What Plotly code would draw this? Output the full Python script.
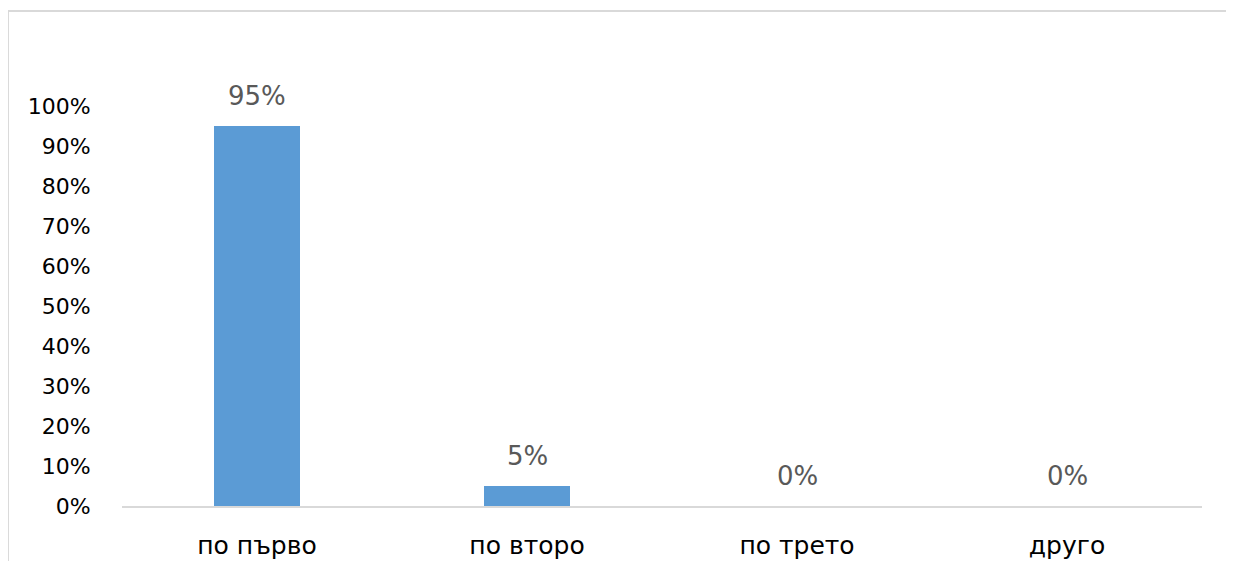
import plotly.graph_objects as go

categories = ["по първо", "по второ", "по трето", "друго"]
values = [0.95, 0.05, 0.0, 0.0]
value_labels = ["95%", "5%", "0%", "0%"]
tick_vals = [0, 0.1, 0.2, 0.3, 0.4, 0.5, 0.6, 0.7, 0.8, 0.9, 1.0]
tick_text = ["0%", "10%", "20%", "30%", "40%", "50%", "60%", "70%", "80%", "90%", "100%"]

FONT = "DejaVu Sans"

fig = go.Figure()
fig.add_trace(go.Bar(
    x=categories, y=values,
    marker=dict(color="#5B9BD5", line=dict(width=0)),
    width=0.315,
    hoverinfo="skip",
))

for c, v, t in zip(categories, values, value_labels):
    fig.add_annotation(x=c, y=v, text=t, showarrow=False, yanchor="bottom",
                       yshift=13, font=dict(family=FONT, size=26, color="#595959"))

fig.update_layout(
    width=1226, height=553,
    margin=dict(l=114, r=32, t=98, b=55, autoexpand=False),
    paper_bgcolor="white", plot_bgcolor="white",
    showlegend=False,
    bargap=0,
    xaxis=dict(
        showgrid=False, zeroline=False,
        showline=True, linecolor="#D9D9D9", linewidth=2,
        ticks="outside", ticklen=16, tickcolor="rgba(0,0,0,0)",
        tickfont=dict(family=FONT, size=25, color="#000000"),
        fixedrange=True,
    ),
    yaxis=dict(
        range=[0, 1], showgrid=False, zeroline=False, showline=False,
        tickvals=tick_vals, ticktext=tick_text,
        ticks="outside", ticklen=26, tickcolor="rgba(0,0,0,0)",
        tickfont=dict(family=FONT, size=22, color="#000000"),
        fixedrange=True,
    ),
    shapes=[
        dict(type="line", xref="paper", yref="paper",
             x0=-0.1056, x1=1.03, y0=1.2375, y1=1.2375,
             line=dict(color="#D9D9D9", width=2)),
        dict(type="line", xref="paper", yref="paper",
             x0=-0.1056, x1=-0.1056, y0=1.2375, y1=-0.2,
             line=dict(color="#D9D9D9", width=2)),
    ],
)

fig.write_html("out.html", config={"displayModeBar": False})
